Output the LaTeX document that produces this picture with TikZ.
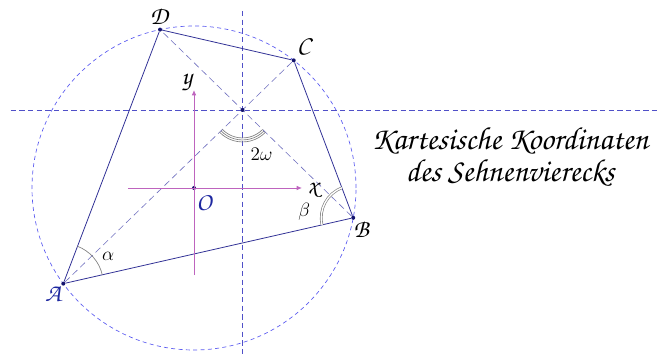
\documentclass[tikz,border=0pt]{standalone}
\usepackage{fontspec}
\newfontfamily\handfont{TeX Gyre Chorus}
\usetikzlibrary{calc,angles,arrows.meta}
\definecolor{circblue}{RGB}{90,90,240}
\definecolor{sideblue}{RGB}{50,50,150}
\definecolor{diagblue}{RGB}{110,110,190}
\definecolor{guideblue}{RGB}{80,80,200}
\definecolor{axisviolet}{RGB}{190,100,190}
\definecolor{ptnavy}{RGB}{20,20,110}
\definecolor{labelblue}{RGB}{30,40,160}
\begin{document}
\begin{tikzpicture}[x=0.75pt, y=0.75pt,
    pt/.style={circle, fill=ptnavy, inner sep=0pt, minimum size=3pt},
    side/.style={sideblue, line width=0.6pt},
    diag/.style={diagblue, line width=0.45pt, dash pattern=on 5pt off 3pt},
    guide/.style={guideblue, line width=0.45pt, dash pattern=on 4pt off 2.5pt},
    circ/.style={circblue, line width=0.5pt, dash pattern=on 3pt off 2.5pt},
    axis/.style={axisviolet, line width=0.7pt, -{Latex[length=4pt,width=3.5pt]}},
    lbl/.style={font=\handfont\fontsize{19}{19}\selectfont},
    greek/.style={font=\fontsize{15}{15}\selectfont},
    arcline/.style={draw=gray, line width=0.5pt}
]
\def\R{162}
\useasboundingbox (-194,-168) rectangle (465,188);

% Circumcircle
\draw[circ] (0,0) circle (\R);

% Vertices on the circle
\node[pt] (O) at (0,0) {};
\node[pt] (A) at (216.2:\R) {};
\node[pt] (B) at (349.4:\R) {};
\node[pt] (C) at (52:\R) {};
\node[pt] (D) at (102.1:\R) {};

% Diagonals and their intersection
\draw[diag] (A) -- (C);
\draw[diag] (B) -- (D);
\coordinate (M) at (intersection of A--C and B--D);

% Guide lines through M
\coordinate (hL) at ($(M)+(-232,0)$);
\coordinate (hR) at ($(M)+(415,0)$);
\coordinate (vT) at ($(M)+(0,99)$);
\coordinate (vB) at ($(M)+(0,-247)$);
\draw[guide] (hL) -- (hR);
\draw[guide] (vT) -- (vB);
\node[pt] (Mdot) at (M) {};

% Sides of the quadrilateral
\draw[side] (A) -- (B);
\draw[side] (B) -- (C);
\draw[side] (C) -- (D);
\draw[side] (D) -- (A);

% Axes
\coordinate (xL) at (-66,0);
\coordinate (xR) at (108,0);
\coordinate (yB) at (0,-87);
\coordinate (yT) at (0,98);
\draw[axis] (xL) -- (xR);
\draw[axis] (yB) -- (yT);

% Angles
\pic[arcline, angle radius=30pt] {angle = B--A--D};
\pic[arcline, double, double distance=1pt, angle radius=24pt] {angle = C--B--A};
\pic[arcline, angle radius=21pt] {angle = A--M--B};
\pic[arcline, angle radius=22.5pt] {angle = A--M--B};
\pic[arcline, angle radius=24pt] {angle = A--M--B};

% Labels
\node[lbl, labelblue] (Alab) at ($(A)+(-10,-10)$) {A};
\node[lbl] (Blab) at ($(B)+(8,-12)$) {B};
\node[lbl] (Clab) at ($(C)+(10,13)$) {C};
\node[lbl] (Dlab) at ($(D)+(-1,13)$) {D};
\node[lbl, labelblue] (Olab) at (10,-15) {O};
\node[lbl] (xlab) at (119,-2) {x};
\node[lbl] (ylab) at (-7,106) {y};
\node[greek] (alab) at ($(A)+(45,27)$) {$\alpha$};
\node[greek] (blab) at ($(B)+(-49,6)$) {$\beta$};
\node[greek] (wlab) at ($(M)+(19,-44)$) {$2\omega$};

% Title
\node[align=center, font=\handfont\fontsize{24}{24}\selectfont] (title) at (316,31)
    {Kartesische Koordinaten\\des Sehnenvierecks};
\end{tikzpicture}
\end{document}
